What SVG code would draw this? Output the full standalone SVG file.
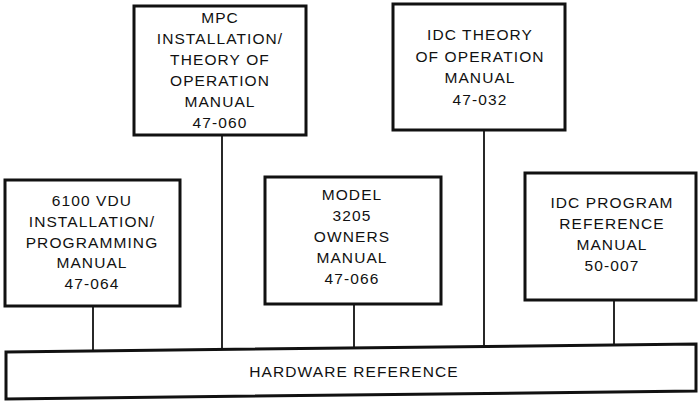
<svg xmlns="http://www.w3.org/2000/svg" width="698" height="401" viewBox="0 0 698 401">
  <style>
    .box { fill: #ffffff; stroke: #111111; stroke-width: 3; }
    .link { fill: none; stroke: #111111; stroke-width: 1.8; }
    .label { font-family: "Liberation Sans", Arial, Helvetica, sans-serif; font-size: 15.5px; letter-spacing: 1.1px; fill: #111111; text-anchor: middle; }
  </style>
  <rect width="698" height="401" fill="#ffffff"/>

  <!-- connectors from each manual down to the hardware reference bar -->
  <g id="connectors">
    <line class="link" x1="93" y1="306" x2="93" y2="351"/>
    <line class="link" x1="222" y1="135" x2="222" y2="350"/>
    <line class="link" x1="354" y1="304" x2="354" y2="348"/>
    <line class="link" x1="484" y1="130" x2="484" y2="347"/>
    <line class="link" x1="614" y1="300" x2="614" y2="345"/>
  </g>

  <g id="mpc-manual">
    <rect class="box" x="134" y="6" width="172" height="129"/>
    <text class="label" x="220" y="23">MPC</text>
    <text class="label" x="220" y="44">INSTALLATION/</text>
    <text class="label" x="220" y="65">THEORY OF</text>
    <text class="label" x="220" y="86">OPERATION</text>
    <text class="label" x="220" y="107">MANUAL</text>
    <text class="label" x="220" y="128">47-060</text>
  </g>

  <g id="idc-theory-manual">
    <rect class="box" x="393" y="4" width="172" height="126"/>
    <text class="label" x="480" y="40">IDC THEORY</text>
    <text class="label" x="480" y="61.5">OF OPERATION</text>
    <text class="label" x="480" y="83">MANUAL</text>
    <text class="label" x="480" y="104.5">47-032</text>
  </g>

  <g id="vdu-manual">
    <rect class="box" x="5" y="180" width="175" height="126"/>
    <text class="label" x="92" y="206">6100 VDU</text>
    <text class="label" x="92" y="227">INSTALLATION/</text>
    <text class="label" x="92" y="247.5">PROGRAMMING</text>
    <text class="label" x="92" y="268">MANUAL</text>
    <text class="label" x="92" y="289">47-064</text>
  </g>

  <g id="model-3205-manual">
    <rect class="box" x="265" y="177" width="176" height="127"/>
    <text class="label" x="352" y="200">MODEL</text>
    <text class="label" x="352" y="221">3205</text>
    <text class="label" x="352" y="242">OWNERS</text>
    <text class="label" x="352" y="263">MANUAL</text>
    <text class="label" x="352" y="284">47-066</text>
  </g>

  <g id="idc-program-manual">
    <rect class="box" x="525" y="173" width="171" height="127"/>
    <text class="label" x="612" y="208">IDC PROGRAM</text>
    <text class="label" x="612" y="229">REFERENCE</text>
    <text class="label" x="612" y="250">MANUAL</text>
    <text class="label" x="612" y="271">50-007</text>
  </g>

  <g id="hardware-reference">
    <polygon class="box" points="6,352 696,344 696,391 6,399"/>
    <text class="label" x="354" y="377">HARDWARE REFERENCE</text>
  </g>
</svg>
